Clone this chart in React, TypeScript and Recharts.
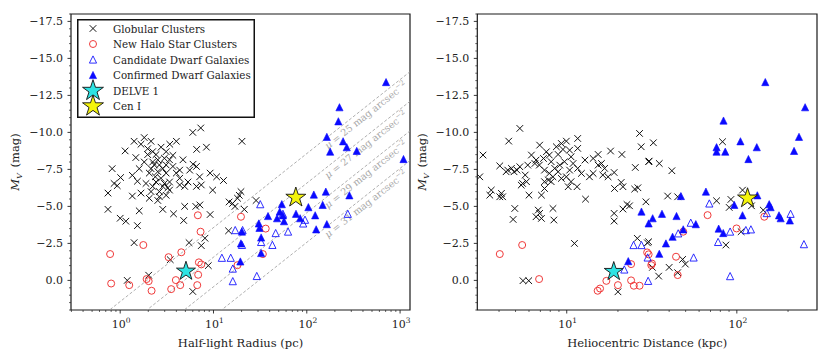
import React from 'react';
import {
  ScatterChart,
  Scatter,
  XAxis,
  YAxis,
  ReferenceLine,
  ReferenceArea,
  ReferenceDot,
  Legend,
} from 'recharts';

const FONT = '"DejaVu Serif", "Liberation Serif", serif';

// ---------- Left panel: half-light radius (pc) vs M_V ----------
const gcLeft: number[][] = [
  [7.3, -10.3], [6.0, -10.0], [6.6, -8.85], [8.4, -9.0], [4.0, -9.4], [3.4, -9.2], [1.81, -9.65], [1.41, -9.4],
  [1.67, -9.2], [2.14, -9.4], [1.13, -8.75], [2.74, -9.0], [3.11, -8.7], [2.42, -8.5], [1.97, -8.5], [1.47, -8.3],
  [1.81, -8.0], [2.23, -8.0], [2.63, -7.8], [3.38, -8.15], [3.67, -7.7], [4.71, -8.15], [6.04, -7.85], [0.82, -7.55],
  [1.01, -6.95], [1.35, -7.1], [1.6, -7.55], [2.14, -7.55], [2.53, -7.35], [3.11, -7.25], [4.34, -7.45], [5.56, -7.45],
  [6.57, -7.7], [9.2, -7.25], [10.8, -7.0], [12.8, -6.75], [7.1, -7.0], [5.33, -6.65], [4.34, -6.9], [3.38, -6.65],
  [2.86, -6.35], [2.42, -6.65], [1.89, -6.55], [1.53, -6.7], [0.86, -6.55], [0.93, -6.4], [0.74, -5.9], [1.35, -5.7],
  [1.67, -5.9], [2.05, -5.55], [2.63, -6.0], [3.11, -5.75], [3.24, -6.25], [4.91, -6.35], [6.57, -6.35], [7.4, -6.45],
  [9.8, -6.1], [0.74, -4.8], [1.0, -4.2], [1.15, -4.0], [1.53, -3.7], [1.6, -4.7], [2.86, -4.8], [3.73, -4.5],
  [4.79, -4.05], [4.91, -5.0], [6.46, -5.0], [7.14, -5.1], [9.2, -4.45], [1.41, -2.55], [5.47, -2.55], [8.1, -2.85],
  [7.4, -2.35], [14.5, -3.35], [8.8, -1.0], [1.19, 0.0], [2.02, -0.35], [6.0, 0.75], [3.44, -1.4],
  [14.7, -5.3], [16.0, -5.2], [17.0, -5.0], [18.1, -5.55], [18.9, -5.75], [19.7, -6.0], [21.4, -4.8], [28.6, -5.4],
  [20.2, -9.4], [2.32, -7.8], [2.53, -8.15], [2.86, -7.55], [2.05, -7.25], [2.38, -7.0], [2.74, -6.9], [2.98, -6.55],
  [2.23, -6.35], [2.63, -5.65], [3.38, -6.1], [2.14, -6.0], [2.53, -5.4], [2.98, -8.25], [3.11, -7.8], [3.67, -8.45],
  [1.97, -8.9], [2.23, -8.7], [3.99, -7.25], [4.34, -6.45],
];
const haloLeft: number[][] = [
  [0.78, -1.78], [0.8, 0.21], [1.25, 0.32], [1.77, -2.39], [1.92, -0.09], [2.02, 0.05], [2.17, 0.7], [3.3, -1.57],
  [3.52, 0.59], [3.95, -0.02], [4.4, 0.32], [4.52, -1.9], [6.7, 0.32], [6.85, -0.38], [6.97, -1.22], [7.4, -1.08],
  [7.27, -3.29], [6.8, -4.4], [19.7, -4.3], [18.1, -1.03], [36.3, -3.5], [33.8, -1.78],
];
const candLeft: number[][] = [
  [12.3, -1.53], [15.3, -1.53], [16.1, -0.8], [16.1, 0.05], [17.1, -3.4], [20.5, -3.4], [20.2, -2.4], [29.1, -0.3],
  [31.7, -5.15], [32.4, -2.6], [42.8, -2.4], [46.4, -3.2], [55.5, -4.5], [63, -3.3], [91.5, -3.85], [95.7, -4.1],
  [275, -4.5],
];
const confLeft: number[][] = [
  [707, -13.4], [224, -11.7], [218, -10.75], [164, -9.7], [245, -9.4], [268, -9.0], [178, -8.7], [343, -8.75],
  [1088, -8.2], [119, -5.8], [160, -6.0], [286, -5.75], [54, -5.15], [104, -4.95], [148, -5.1], [38.4, -4.35],
  [48, -4.2], [51.3, -4.65], [55.5, -4.4], [57, -4.0], [76.6, -4.5], [84.8, -4.2], [123, -4.4], [30.6, -3.85],
  [31.1, -3.55], [126, -3.45], [164, -3.8], [32.4, -2.9], [32.4, -1.85], [20.2, -3.3], [19.7, -2.5], [19.4, -1.28],
];
const delveLeft: number[][] = [[5.07, -0.62]];
const cenLeft: number[][] = [[76.3, -5.6]];

// ---------- Right panel: heliocentric distance (kpc) vs M_V ----------
const gcRight: number[][] = [
  [5.3, -10.27], [4.56, -9.41], [3.22, -8.47], [3.08, -7.0], [6.93, -9.14], [7.59, -8.69], [8.69, -9.03], [9.3, -9.25],
  [9.95, -9.41], [9.5, -8.85], [8.9, -8.51], [10.6, -8.35], [10.4, -8.8], [11.6, -9.59], [11.6, -8.92], [12.8, -8.13],
  [14.3, -8.24], [15.3, -8.51], [15.3, -7.79], [18.1, -8.74], [21.1, -8.51], [26.8, -9.93], [27.4, -9.03], [30.3, -8.02],
  [25.3, -7.63], [19.0, -7.29], [20.9, -6.62], [21.4, -6.33], [19.1, -6.21], [25.1, -6.17], [26.2, -6.26], [16.0, -7.9],
  [16.7, -7.57], [16.3, -7.12], [17.5, -7.0], [13.6, -7.0], [14.3, -7.23], [11.6, -7.57], [12.2, -7.23], [9.95, -7.0],
  [10.6, -6.67], [11.5, -6.33], [10.2, -6.33], [7.9, -7.23], [7.8, -6.78], [8.5, -7.57], [8.1, -6.67], [7.4, -7.45],
  [6.9, -7.79], [6.5, -7.9], [5.9, -7.79], [5.7, -7.12], [5.5, -6.55], [5.8, -6.67], [5.4, -6.44], [5.3, -7.68],
  [5.1, -7.45], [4.73, -7.57], [4.04, -7.74], [4.4, -7.34], [7.4, -6.67], [7.4, -6.21], [7.1, -5.76], [6.0, -5.76],
  [3.6, -6.1], [3.53, -5.76], [4.13, -5.88], [4.2, -5.65], [4.04, -5.65], [4.95, -4.86], [4.84, -4.12], [6.8, -4.75],
  [6.93, -4.53], [6.6, -4.3], [7.1, -4.19], [8.3, -4.86], [8.4, -4.08], [11.1, -2.5], [12.9, -5.49], [19.0, -4.53],
  [19.0, -4.01], [21.4, -4.82], [22.6, -5.13], [23.4, -5.04], [26.0, -2.84], [30.3, -2.61], [5.53, 0.02], [5.98, 0.02],
  [20.0, 0.77], [8.1, -8.02], [9.1, -7.79], [9.7, -8.02], [8.3, -7.0], [9.3, -6.89], [8.9, -7.34], [10.4, -7.45],
  [10.9, -7.9], [7.9, -8.47], [7.3, -8.24], [6.2, -8.47], [6.6, -8.13], [4.5, -7.45], [4.9, -7.34],
  [32.3, -9.3], [30.5, -8.06], [35.0, -7.9], [41.5, -7.41], [29.2, -5.31], [39.2, -5.7], [44.9, -5.65], [82.4, -9.37],
  [76.0, -5.38], [90.2, -4.93], [92.3, -5.47], [108, -6.1], [122, -5.04], [143, -4.75], [106, -3.29], [86.2, -2.39],
  [29.8, -2.54], [31.9, -0.88], [34.7, -0.29], [40.0, -0.88], [48.0, -1.42], [49.8, -1.1], [44.9, -0.52],
];
const haloRight: number[][] = [
  [4.04, -1.78], [5.47, -2.39], [6.88, -0.09], [15.2, 0.7], [15.7, 0.55], [17.1, 0.03], [20, 0.32], [23.9, -1.1],
  [23.9, 0.0], [24.8, 0.36], [26.8, 0.36], [29.7, -1.89], [30.3, -1.76], [31.4, -1.03], [31.7, -1.14], [43.9, -1.6],
  [44.9, -0.36], [48.4, -3.29], [67.3, -4.41], [99.6, -3.51], [145, -4.3],
];
const candRight: number[][] = [
  [21.8, -0.74], [24.7, -2.39], [27.5, -2.39], [29.9, -1.55], [30.1, 0.03], [45.2, -3.18], [53.6, -3.9], [55.7, -1.55],
  [68.9, -5.2], [77.6, -2.6], [91.3, -3.3], [91.3, -0.29], [113, -3.4], [121, -3.45], [150, -4.55], [207, -4.5],
  [248, -2.45],
];
const confRight: number[][] = [
  [147, -13.4], [252, -11.7], [83.5, -10.8], [76, -9.0], [76, -8.7], [85.5, -8.7], [105, -9.4], [131, -9.0],
  [117, -8.2], [232, -9.7], [217, -8.75], [65.8, -6.0], [46.9, -5.7], [132, -5.75], [96.6, -5.1], [108, -4.4],
  [158, -4.95], [155, -5.15], [177, -4.4], [181, -4.2], [205, -4.05], [78.2, -3.5], [83.2, -3.2], [36.3, -4.5],
  [32, -4.2], [30.3, -3.85], [27.5, -4.65], [44.2, -4.35], [57.4, -3.8], [48.4, -3.45], [41.9, -2.95], [38.3, -2.5],
  [35, -1.8], [23, -1.3],
];
const delveRight: number[][] = [[18.9, -0.6]];
const cenRight: number[][] = [[115.6, -5.55]];

// ---------- Axes / labels ----------
const surfaceBrightness = [25, 27, 29, 31];
const SB_CONST = 23.57; // mu = M_V + 23.57 + 5 log10(r_pc)
const legendLabels = [
  'Globular Clusters',
  'New Halo Star Clusters',
  'Candidate Dwarf Galaxies',
  'Confirmed Dwarf Galaxies',
  'DELVE 1',
  'Cen I',
];
const yMajor = [-17.5, -15, -12.5, -10, -7.5, -5, -2.5, 0];
const yTicks = [
  -18, -17.5, -17, -16.5, -16, -15.5, -15, -14.5, -14, -13.5, -13, -12.5, -12, -11.5, -11, -10.5, -10, -9.5, -9,
  -8.5, -8, -7.5, -7, -6.5, -6, -5.5, -5, -4.5, -4, -3.5, -3, -2.5, -2, -1.5, -1, -0.5, 0, 0.5, 1, 1.5, 2,
];
const xMajorLeft = [1, 10, 100, 1000];
const xTicksLeft = [
  0.3, 0.4, 0.5, 0.6, 0.7, 0.8, 0.9, 1, 2, 3, 4, 5, 6, 7, 8, 9, 10, 20, 30, 40, 50, 60, 70, 80, 90, 100, 200, 300,
  400, 500, 600, 700, 800, 900, 1000,
];
const xMajorRight = [10, 100];
const xTicksRight = [4, 5, 6, 7, 8, 9, 10, 20, 30, 40, 50, 60, 70, 80, 90, 100, 200];
const xDomainLeft: [number, number] = [0.297, 1277];
const xDomainRight: [number, number] = [2.98, 296];
const yDomain: [number, number] = [-18, 2];

const toPts = (arr: number[][]) => arr.map(([x, y]) => ({ x, y }));

// ---------- Marker shapes ----------
const C_RED = '#f03a3a';
const C_BLUE = '#0a0aff';
const C_CYAN = '#2ee3e3';
const C_YELLOW = '#f4f40c';

const XMark = ({ cx, cy, s = 3.3 }: any) => (
  <path
    d={`M${cx - s},${cy - s}L${cx + s},${cy + s}M${cx - s},${cy + s}L${cx + s},${cy - s}`}
    stroke="#111"
    strokeWidth={1}
    fill="none"
  />
);
const CircleMark = ({ cx, cy }: any) => (
  <circle cx={cx} cy={cy} r={3.5} fill="none" stroke={C_RED} strokeWidth={1} />
);
const TriMark = ({ cx, cy, filled }: any) => {
  const h = 3.6;
  return (
    <path
      d={`M${cx},${cy - h}L${cx - h},${cy + h}L${cx + h},${cy + h}Z`}
      fill={filled ? C_BLUE : 'none'}
      stroke={C_BLUE}
      strokeWidth={filled ? 0.6 : 1}
      strokeOpacity={filled ? 1 : 0.85}
    />
  );
};
const StarMark = ({ cx, cy, fill, R = 10.5 }: any) => {
  const r = R * 0.382;
  const pts: string[] = [];
  for (let i = 0; i < 10; i++) {
    const a = (Math.PI / 5) * i - Math.PI / 2;
    const rad = i % 2 === 0 ? R : r;
    pts.push(`${(cx + rad * Math.cos(a)).toFixed(2)},${(cy + rad * Math.sin(a)).toFixed(2)}`);
  }
  return <polygon points={pts.join(' ')} fill={fill} stroke="#111" strokeWidth={0.9} />;
};

// ---------- Ticks ----------
const fmtY = (v: number) => (v < 0 ? '\u2212' + Math.abs(v).toFixed(1) : v.toFixed(1));

const YTick = (props: any) => {
  const { x, y, payload } = props;
  const v = payload.value;
  const major = yMajor.some((m) => Math.abs(m - v) < 1e-6);
  const len = major ? 3.5 : 2;
  return (
    <g>
      <line x1={x - len} y1={y} x2={x} y2={y} stroke="#222" strokeWidth={major ? 0.9 : 0.7} />
      {major && (
        <text x={x - 8} y={y + 4} textAnchor="end" fontFamily={FONT} fontSize={11} fill="#222">
          {fmtY(v)}
        </text>
      )}
    </g>
  );
};

const makeXTick = (majors: number[]) => (props: any) => {
  const { x, y, payload } = props;
  const v = payload.value;
  const major = majors.some((m) => Math.abs(m - v) < 1e-6);
  const len = major ? 3.5 : 2;
  return (
    <g>
      <line x1={x} y1={y} x2={x} y2={y + len} stroke="#222" strokeWidth={major ? 0.9 : 0.7} />
      {major && (
        <text x={x + 1} y={y + 18} textAnchor="middle" fontFamily={FONT} fontSize={11} fill="#222">
          10
          <tspan dy={-5} fontSize={7.5}>
            {Math.round(Math.log10(v))}
          </tspan>
        </text>
      )}
    </g>
  );
};

const YLabel = (bx: number) => (props: any) => {
  const cy = 162;
  return (
    <text
      transform={`rotate(-90, ${bx}, ${cy})`}
      x={bx}
      y={cy}
      textAnchor="middle"
      fontFamily={FONT}
      fontSize={11.5}
      fill="#222"
    >
      <tspan fontStyle="italic">M</tspan>
      <tspan fontStyle="italic" fontSize={8} dy={3}>
        V
      </tspan>
      <tspan dy={-3}>{'\u2002(mag)'}</tspan>
    </text>
  );
};

const XLabel = (text: string) => (props: any) => {
  const vb = props.viewBox || {};
  const cx = vb.x + vb.width / 2;
  return (
    <text x={cx} y={347} textAnchor="middle" fontFamily={FONT} fontSize={11.5} fill="#222">
      {text}
    </text>
  );
};

// ---------- Legend ----------
const LegendBox = () => {
  const rows = [9.5, 25, 40.5, 56, 71.7, 87.2];
  const mx = 16;
  return (
    <svg width={178} height={99} style={{ display: 'block' }}>
      <rect x={0.75} y={0.75} width={176.5} height={97.5} fill="#fff" stroke="#111" strokeWidth={1.5} />
      <XMark cx={mx} cy={rows[0]} />
      <CircleMark cx={mx} cy={rows[1]} />
      <TriMark cx={mx} cy={rows[2]} filled={false} />
      <TriMark cx={mx} cy={rows[3]} filled />
      <StarMark cx={mx} cy={rows[4]} fill={C_CYAN} R={11} />
      <StarMark cx={mx} cy={rows[5]} fill={C_YELLOW} R={11} />
      {legendLabels.map((t, i) => (
        <text key={t} x={36} y={rows[i] + 4} fontFamily={FONT} fontSize={10.3} fill="#222">
          {t}
        </text>
      ))}
    </svg>
  );
};

// ---------- Surface brightness labels ----------
const SB_ANGLE = 38.4;
const SBLabel = (mu: number) => (p: any) => {
  const { cx, cy } = p;
  if (cx == null || cy == null) return <g />;
  return (
    <text
      transform={`rotate(${-SB_ANGLE}, ${cx}, ${cy})`}
      x={cx}
      y={cy}
      dy={10}
      fontFamily={FONT}
      fontSize={9.6}
      fill="#a8a8a8"
    >
      <tspan fontStyle="italic">{'\u03bc'}</tspan>
      {` = ${mu} mag arcsec`}
      <tspan dy={-4} fontSize={7}>
        {'\u22122'}
      </tspan>
    </text>
  );
};

const sbM = (mu: number, r: number) => mu - SB_CONST - 5 * Math.log10(r);

export default function App() {
  const xTickLeft = makeXTick(xMajorLeft);
  const xTickRight = makeXTick(xMajorRight);
  return (
    <div style={{ position: 'absolute', left: 0, top: 0, width: 831, height: 360, background: '#fff' }}>
      <div style={{ position: 'absolute', left: 400, top: 0 }}>
        <ScatterChart width={431} height={360} margin={{ top: 14, right: 14, bottom: 0, left: 0 }}>
          <XAxis
            dataKey="x"
            type="number"
            scale="log"
            domain={xDomainRight}
            allowDataOverflow
            ticks={xTicksRight}
            interval={0}
            tick={xTickRight}
            tickLine={false}
            tickSize={0}
            tickMargin={0}
            axisLine={false}
            height={50}
            label={{ content: XLabel('Heliocentric Distance (kpc)') } as any}
          />
          <YAxis
            dataKey="y"
            type="number"
            domain={yDomain}
            reversed
            allowDataOverflow
            ticks={yTicks}
            interval={0}
            tick={YTick}
            tickLine={false}
            tickSize={0}
            tickMargin={0}
            axisLine={false}
            width={77.3}
            label={{ content: YLabel(26) } as any}
          />
          <Scatter name="Globular Clusters" data={toPts(gcRight)} shape={XMark} isAnimationActive={false} />
          <Scatter name="New Halo Star Clusters" data={toPts(haloRight)} shape={CircleMark} isAnimationActive={false} />
          <Scatter
            name="Candidate Dwarf Galaxies"
            data={toPts(candRight)}
            shape={(p: any) => <TriMark {...p} filled={false} />}
            isAnimationActive={false}
          />
          <Scatter
            name="Confirmed Dwarf Galaxies"
            data={toPts(confRight)}
            shape={(p: any) => <TriMark {...p} filled />}
            isAnimationActive={false}
          />
          <Scatter
            name="DELVE 1"
            data={toPts(delveRight)}
            shape={(p: any) => <StarMark cx={p.cx} cy={p.cy} fill={C_CYAN} R={10} />}
            isAnimationActive={false}
          />
          <Scatter
            name="Cen I"
            data={toPts(cenRight)}
            shape={(p: any) => <StarMark cx={p.cx} cy={p.cy} fill={C_YELLOW} R={10.5} />}
            isAnimationActive={false}
          />
          <ReferenceArea
            x1={xDomainRight[0]}
            x2={xDomainRight[1]}
            y1={yDomain[0]}
            y2={yDomain[1]}
            fill="none"
            fillOpacity={0}
            stroke="#1a1a1a"
            strokeWidth={1.2}
            ifOverflow="visible"
          />
        </ScatterChart>
      </div>
      <div style={{ position: 'absolute', left: 0, top: 0 }}>
        <ScatterChart width={415} height={360} margin={{ top: 14, right: 5, bottom: 0, left: 0 }}>
          <XAxis
            dataKey="x"
            type="number"
            scale="log"
            domain={xDomainLeft}
            allowDataOverflow
            ticks={xTicksLeft}
            interval={0}
            tick={xTickLeft}
            tickLine={false}
            tickSize={0}
            tickMargin={0}
            axisLine={false}
            height={50}
            label={{ content: XLabel('Half-light Radius (pc)') } as any}
          />
          <YAxis
            dataKey="y"
            type="number"
            domain={yDomain}
            reversed
            allowDataOverflow
            ticks={yTicks}
            interval={0}
            tick={YTick}
            tickLine={false}
            tickSize={0}
            tickMargin={0}
            axisLine={false}
            width={71}
            label={{ content: YLabel(19) } as any}
          />
          {surfaceBrightness.map((mu) => (
            <ReferenceLine
              key={'l' + mu}
              segment={[
                { x: xDomainLeft[0], y: sbM(mu, xDomainLeft[0]) },
                { x: xDomainLeft[1], y: sbM(mu, xDomainLeft[1]) },
              ]}
              ifOverflow="hidden"
              stroke="#9a9a9a"
              strokeWidth={0.8}
              strokeDasharray="3 2"
            />
          ))}
          {surfaceBrightness.map((mu) => (
            <ReferenceDot
              key={'t' + mu}
              x={145}
              y={sbM(mu, 145)}
              r={0}
              ifOverflow="visible"
              shape={SBLabel(mu) as any}
            />
          ))}
          <Scatter name="Globular Clusters" data={toPts(gcLeft)} shape={XMark} isAnimationActive={false} />
          <Scatter name="New Halo Star Clusters" data={toPts(haloLeft)} shape={CircleMark} isAnimationActive={false} />
          <Scatter
            name="Candidate Dwarf Galaxies"
            data={toPts(candLeft)}
            shape={(p: any) => <TriMark {...p} filled={false} />}
            isAnimationActive={false}
          />
          <Scatter
            name="Confirmed Dwarf Galaxies"
            data={toPts(confLeft)}
            shape={(p: any) => <TriMark {...p} filled />}
            isAnimationActive={false}
          />
          <Scatter
            name="DELVE 1"
            data={toPts(delveLeft)}
            shape={(p: any) => <StarMark cx={p.cx} cy={p.cy} fill={C_CYAN} R={10} />}
            isAnimationActive={false}
          />
          <Scatter
            name="Cen I"
            data={toPts(cenLeft)}
            shape={(p: any) => <StarMark cx={p.cx} cy={p.cy} fill={C_YELLOW} R={10.5} />}
            isAnimationActive={false}
          />
          <ReferenceArea
            x1={xDomainLeft[0]}
            x2={xDomainLeft[1]}
            y1={yDomain[0]}
            y2={yDomain[1]}
            fill="none"
            fillOpacity={0}
            stroke="#1a1a1a"
            strokeWidth={1.2}
            ifOverflow="visible"
          />
          <Legend
            layout="horizontal"
            align="center"
            verticalAlign="middle"
            wrapperStyle={{ left: 77, top: 19, width: 178, height: 99, margin: 0, padding: 0 }}
            content={() => <LegendBox />}
          />
        </ScatterChart>
      </div>
    </div>
  );
}
